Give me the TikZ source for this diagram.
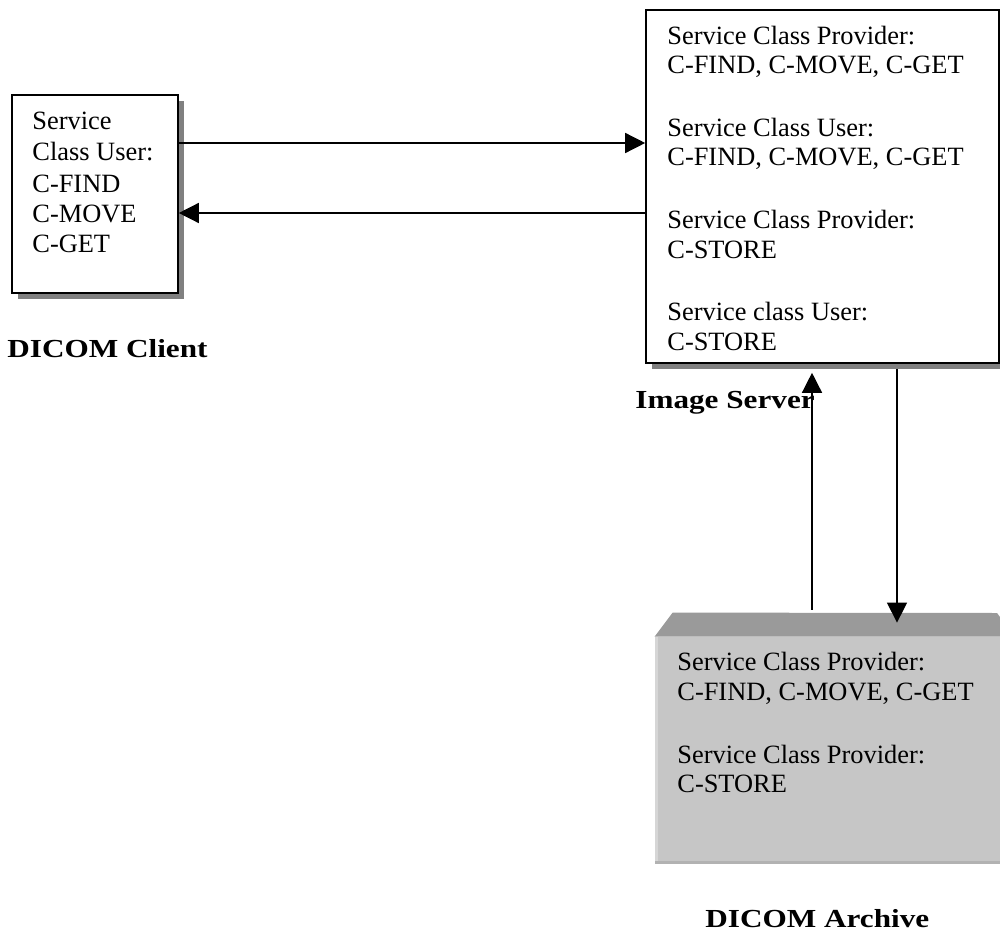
\documentclass[tikz,border=0pt]{standalone}
\usepackage{fontspec}
\setmainfont{Liberation Serif}
\newfontfamily\captionfont[FakeStretch=1.2]{Liberation Serif}
\usetikzlibrary{arrows.meta,shadows,calc}

\definecolor{shadowgray}{HTML}{808080}
\definecolor{facegray}{HTML}{C6C6C6}
\definecolor{bevelgray}{HTML}{9A9A9A}
\definecolor{edgelight}{HTML}{D6D6D6}
\definecolor{edgedark}{HTML}{B2B2B2}

\begin{document}
\begin{tikzpicture}[x=0.5pt,y=-0.5pt,
  box/.style={draw=black, line width=0.8pt, fill=white, inner sep=0pt,
    drop shadow={shadow xshift=3pt, shadow yshift=-3pt, fill=shadowgray, opacity=1}},
  archface/.style={fill=facegray, inner sep=0pt},
  txt/.style={anchor=base west, inner sep=0pt, font=\fontsize{13.2pt}{15pt}\selectfont},
  lbl/.style={anchor=base west, inner sep=0pt, font=\captionfont\bfseries\fontsize{13pt}{15pt}\selectfont},
  arr/.style={line width=0.7pt, -{Triangle[length=10pt, width=10pt]}}]

\useasboundingbox (0,0) rectangle (1000,941);

% --- boxes ---
\node[box, minimum width=83pt, minimum height=99pt] (client) at (95,194) {};
\node[box, minimum width=176.5pt, minimum height=176.5pt] (server) at (822.5,186.5) {};

% archive: front face, lit/shaded edges and top bevel
\node[archface, minimum width=172.5pt, minimum height=113.5pt] (archive) at (827.5,750.5) {};
\fill[edgelight] (archive.north west) rectangle ++(3,227);
\fill[edgedark] (archive.south west) rectangle ++(345,-3);
\fill[bevelgray] (archive.north west) -- ++(18,-24) -- (997,613) -- (1000,617)
  -- (archive.north east) -- cycle;

% --- client text ---
\node[txt] (c1) at (32,130) {Service};
\node[txt] (c2) at (32,161) {Class User:};
\node[txt] (c3) at (32,192) {C-FIND};
\node[txt] (c4) at (32,222) {C-MOVE};
\node[txt] (c5) at (32,252) {C-GET};

% --- server text ---
\node[txt] (s1) at (667,45)  {Service Class Provider:};
\node[txt] (s2) at (667,74)  {C-FIND, C-MOVE, C-GET};
\node[txt] (s3) at (667,137) {Service Class User:};
\node[txt] (s4) at (667,166) {C-FIND, C-MOVE, C-GET};
\node[txt] (s5) at (667,228) {Service Class Provider:};
\node[txt] (s6) at (667,258) {C-STORE};
\node[txt] (s7) at (667,320) {Service class User:};
\node[txt] (s8) at (667,350) {C-STORE};

% --- archive text ---
\node[txt] (a1) at (677,670) {Service Class Provider:};
\node[txt] (a2) at (677,700) {C-FIND, C-MOVE, C-GET};
\node[txt] (a3) at (677,763) {Service Class Provider:};
\node[txt] (a4) at (677,792) {C-STORE};

% --- captions ---
\node[lbl] (lclient)  at (7,357)   {DICOM Client};
\node[lbl] (lserver)  at (635,408) {Image Server};
\node[lbl] (larchive) at (705,927) {DICOM Archive};

% --- connectors ---
\coordinate (h1) at (0,143);
\coordinate (h2) at (0,213);
\coordinate (v1) at (812,0);
\coordinate (v2) at (897,0);

\draw[arr] (client.east |- h1) -- (server.west |- h1);
\draw[arr] (server.west |- h2) -- (client.east |- h2);
\draw[arr] ($(archive.north -| v1)+(0,-27)$) -- ($(server.south -| v1)+(0,9)$);
\draw[arr] ($(server.south -| v2)+(0,5)$) -- ($(archive.north -| v2)+(0,-14)$);
\end{tikzpicture}
\end{document}
